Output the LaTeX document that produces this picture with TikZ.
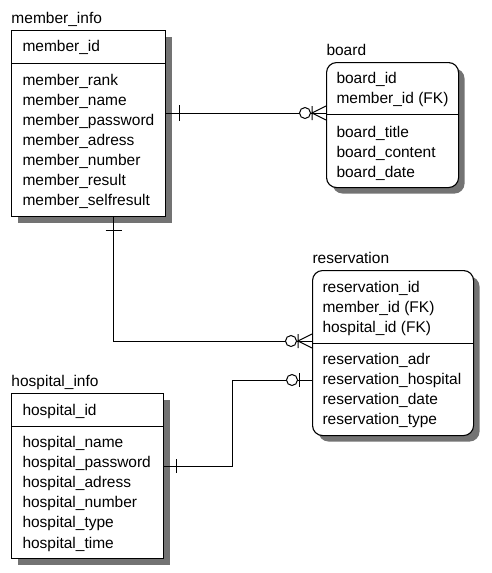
\documentclass[tikz,border=0pt]{standalone}
\usepackage{fontspec}
\setmainfont{Liberation Sans}
\usepackage{tikz}
\usetikzlibrary{shadows}

\tikzset{
  entity/.style={draw,fill=white,anchor=north west,inner sep=0pt,line width=1.1pt,
    drop shadow={shadow xshift=6pt,shadow yshift=-6pt,fill=black!55,opacity=1}},
  attr/.style={anchor=base west,inner sep=0pt,font=\fontsize{15.5}{18}\selectfont},
}

\begin{document}
\begin{tikzpicture}[x=1pt,y=-1pt,line width=1pt]
\useasboundingbox (0,0) rectangle (491,573);
% tables
\node[entity,minimum width=154pt,minimum height=186pt] (member) at (11,30) {};
\node[entity,minimum width=132pt,minimum height=125pt,rounded corners=10pt] (board) at (326,62) {};
\node[entity,minimum width=161pt,minimum height=165pt,rounded corners=10pt] (resv) at (312,270) {};
\node[entity,minimum width=152pt,minimum height=165pt] (hosp) at (11,393) {};
\draw ([yshift=-33pt]member.north west) -- ([yshift=-33pt]member.north east);
\draw ([yshift=-52pt]board.north west) -- ([yshift=-52pt]board.north east);
\draw ([yshift=-73pt]resv.north west) -- ([yshift=-73pt]resv.north east);
\draw ([yshift=-33pt]hosp.north west) -- ([yshift=-33pt]hosp.north east);
% titles and keys
\node[attr] (membert) at (11,23) {member\_info};
\node[attr] (boardt) at (326,55) {board};
\node[attr] (resvt) at (312,263) {reservation};
\node[attr] (hospt) at (11,386) {hospital\_info};
\node[attr] (mkey) at (22,51) {member\_id};
\node[attr] (hkey) at (22,415) {hospital\_id};
\foreach \t [count=\i from 0] in {board\_id,member\_id (FK)}
  \node[attr] (bk\i) at (336,{83+20*\i}) {\t};
\foreach \t [count=\i from 0] in {reservation\_id,member\_id (FK),hospital\_id (FK)}
  \node[attr] (rk\i) at (322,{292+20*\i}) {\t};
% attributes
\foreach \t [count=\i from 0] in {member\_rank,member\_name,member\_password,member\_adress,member\_number,member\_result,member\_selfresult}
  \node[attr] (ma\i) at (22,{85+20*\i}) {\t};
\foreach \t [count=\i from 0] in {board\_title,board\_content,board\_date}
  \node[attr] (ba\i) at (336,{137+20*\i}) {\t};
\foreach \t [count=\i from 0] in {reservation\_adr,reservation\_hospital,reservation\_date,reservation\_type}
  \node[attr] (ra\i) at (322,{364+20*\i}) {\t};
\foreach \t [count=\i from 0] in {hospital\_name,hospital\_password,hospital\_adress,hospital\_number,hospital\_type,hospital\_time}
  \node[attr] (ha\i) at (22,{447+20.2*\i}) {\t};
% relationships
\coordinate (bfk) at ([yshift=-51pt]board.north west);
\coordinate (rfk1) at ([yshift=-71pt]resv.north west);
\coordinate (rfk2) at ([yshift=-110pt]resv.north west);
\coordinate (mp) at (member.east |- bfk);
\coordinate (ms) at ([xshift=25pt]member.south);
\coordinate (hp) at ([yshift=-73pt]hosp.north east);
\draw (mp) -- (bfk);
\draw (ms) |- (rfk1);
\draw (hp) -- ++(68,0) |- (rfk2);
\draw ([xshift=13pt]mp) ++(0,-8) -- ++(0,16);
\draw ([yshift=-13pt]ms) ++(-8,0) -- ++(16,0);
\draw ([xshift=12pt]hp) ++(0,-7) -- ++(0,14);
\foreach \p in {bfk,rfk1}
  \draw (\p) ++(0,-7) -- ++(-14,7) -- ++(14,7)
        (\p) ++(-14,-7) -- ++(0,14)
        (\p) ++(-21,0) node[circle,draw,fill=white,inner sep=0pt,minimum size=11pt] (o\p) {};
\draw (rfk2) ++(-13,-7) -- ++(0,14)
      (rfk2) ++(-20,0) node[circle,draw,fill=white,inner sep=0pt,minimum size=11pt] (orfk2) {};
\end{tikzpicture}
\end{document}
